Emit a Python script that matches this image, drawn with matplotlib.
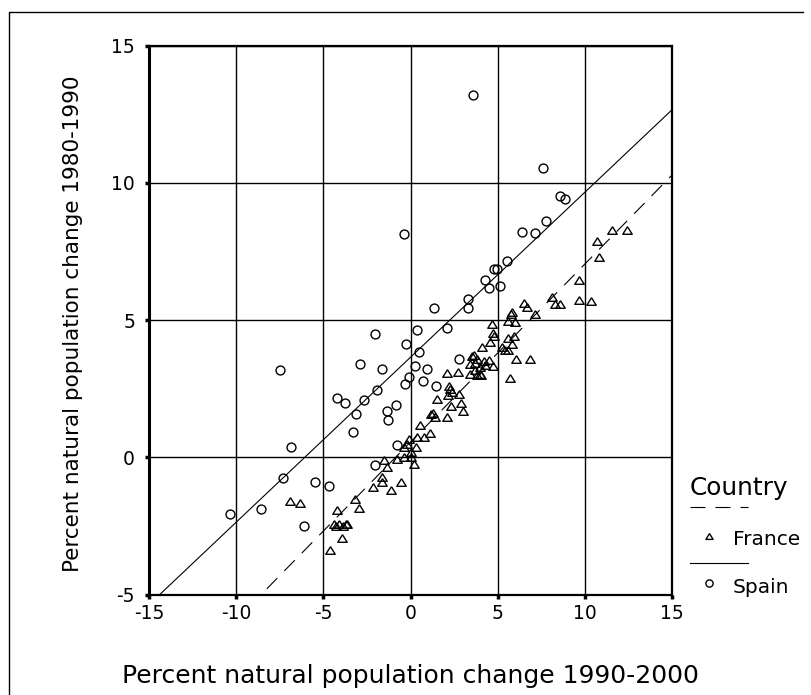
import numpy as np
import matplotlib
matplotlib.use("Agg")
import matplotlib.pyplot as plt
from matplotlib.lines import Line2D

plt.rcParams['font.family'] = ['DejaVu Sans']
plt.rcParams['axes.unicode_minus'] = False

# values
spain_x = [3.59, 7.6, 8.59, 8.89, 7.78, 6.41, 7.12, -0.38, 5.55, 4.77, 4.94, 4.29, 4.5,
           5.11, 3.28, 3.32, 1.37, 0.38, 2.1, -2.02, -7.48, -2.92, -1.66, -1.95, -4.2,
           -3.76, -2.67, -3.11, -1.37, -1.3, -0.84, -3.3, -6.87, -0.76, -7.33, -5.48,
           -4.68, -2.06, -8.6, -10.34, -6.12, -0.27, 0.46, 2.79, 0.27, 0.97, -0.08, 0.74,
           -0.29, 1.47]
spain_y = [13.2, 10.54, 9.51, 9.4, 8.61, 8.22, 8.19, 8.13, 7.15, 6.85, 6.85, 6.45, 6.19,
           6.25, 5.77, 5.46, 5.43, 4.66, 4.71, 4.48, 3.19, 3.4, 3.24, 2.47, 2.16,
           1.97, 2.1, 1.57, 1.68, 1.38, 1.92, 0.94, 0.39, 0.45, -0.75, -0.9,
           -1.03, -0.29, -1.88, -2.07, -2.51, 4.14, 3.84, 3.58, 3.33, 3.23, 2.93, 2.8,
           2.68, 2.61]

france_x = [11.55, 12.4, 10.7, 10.8, 9.69, 8.09, 8.28, 8.6, 9.69, 10.38, 6.49, 6.68, 7.14,
            5.82, 5.76, 5.59, 6.01, 4.66, 4.71, 4.77, 5.6, 5.95, 4.1, 4.54, 5.25, 5.44,
            5.57, 5.82, 6.07, 6.87, 5.72, 3.62, 3.82, 4.2, 4.48, 4.29, 4.73, 3.43, 3.72,
            4.0, 3.53, 3.72, 4.0, 3.4, 3.82, 4.05, 2.73, 2.1, 2.23, 2.29, 2.39, 2.16, 2.77,
            1.53, 2.92, 2.35, 3.01, 1.3, 1.18, 1.43, 2.1, 0.53, 1.14, 0.76, 0.38, -0.1,
            -0.19, -0.38, 0.29, 0.05, -0.76, -0.38, 0.0, 0.19, -1.53, -1.33, -1.62, -1.62,
            -1.14, -0.53, -2.14, -6.89, -6.34, -4.22, -3.21, -2.94, -4.39, -4.1, -3.72,
            -3.62, -4.25, -3.85, -3.93, -4.6]
france_y = [8.29, 8.29, 7.9, 7.32, 6.48, 5.84, 5.6, 5.6, 5.74, 5.7, 5.62, 5.48, 5.21,
            5.29, 5.21, 4.97, 4.93, 4.85, 4.53, 4.44, 4.35, 4.42, 4.02, 4.2, 4.04, 3.92,
            3.9, 4.12, 3.57, 3.57, 2.89, 3.75, 3.6, 3.53, 3.56, 3.35, 3.32, 3.41, 3.17,
            3.05, 3.68, 3.45, 3.29, 3.05, 3.02, 3.02, 3.11, 3.07, 2.62, 2.5, 2.38, 2.28, 2.32,
            2.12, 1.98, 1.87, 1.69, 1.61, 1.57, 1.49, 1.49, 1.17, 0.89, 0.74, 0.74, 0.68,
            0.5, 0.38, 0.38, 0.2, -0.05, 0.01, 0.01, -0.23, -0.11, -0.35, -0.72, -0.9,
            -1.18, -0.91, -1.08, -1.57, -1.66, -1.91, -1.5, -1.85, -2.42, -2.44, -2.42,
            -2.44, -2.5, -2.5, -2.93, -3.36]

# fit lines as drawn in the picture: (slope, intercept)
france_fit = (0.6485, 0.56)
spain_fit = (0.601, 3.65)

x_ticks = [-15, -10, -5, 0, 5, 10, 15]
y_ticks = [-5, 0, 5, 10, 15]
countries = ['France', 'Spain']
x_title = 'Percent natural population change 1990-2000'
y_title = 'Percent natural population change 1980-1990'

W, H = 811, 695


def fx(px):
    return px / W


def fy(py):
    return 1 - py / H


# wide, flat triangle like the SPSS marker
tri = [(0, 0.8), (-1, -0.8), (1, -0.8), (0, 0.8)]

fig = plt.figure(figsize=(W / 100, H / 100), dpi=100)
ax = fig.add_axes([fx(149), fy(594.7), (672 - 149) / W, (594.7 - 45.7) / H])

ax.set_xlim(-15, 15)
ax.set_ylim(-5, 15)
ax.set_xticks(x_ticks)
ax.set_yticks(y_ticks)
ax.set_xticklabels([str(t) for t in x_ticks])
ax.set_yticklabels([str(t) for t in y_ticks])
ax.tick_params(axis='both', direction='out', length=3, width=2.5, labelsize=13.5)
ax.tick_params(axis='x', pad=4)
ax.tick_params(axis='y', pad=7)
ax.grid(True, color='black', linewidth=1.0)
ax.set_axisbelow(True)
for s in ax.spines.values():
    s.set_linewidth(1.6)
ax.spines['left'].set_linewidth(2.2)

ax.plot(france_x, france_y, linestyle='none', marker=tri, ms=6.8,
        mfc='none', mec='black', mew=1.0, zorder=3)
ax.plot(spain_x, spain_y, linestyle='none', marker='o', ms=6.4,
        mfc='none', mec='black', mew=1.0, zorder=3)

# fit lines across the whole x range, clipped by the axes
xx = np.array([-15.0, 15.0])
lw = 0.8
ax.plot(xx, france_fit[0] * xx + france_fit[1], color='black', lw=lw,
        linestyle=(0, (10.8 / lw, 7.2 / lw)), zorder=4)
ax.plot(xx, spain_fit[0] * xx + spain_fit[1], color='black', lw=lw, zorder=4)

fig.text(fx(410), fy(682.7), x_title, fontsize=18, ha='center', va='baseline')
fig.text(fx(73.5), fy(324), y_title, fontsize=15.5, rotation=90,
         ha='center', va='center')

# legend, drawn by hand like the original
fig.text(fx(690), fy(495), 'Country', fontsize=17.8, va='baseline')
fig.add_artist(Line2D([fx(690), fx(748)], [fy(506.7), fy(506.7)], color='black',
                      lw=lw, linestyle=(0, (10.8 / lw, 7.2 / lw)),
                      transform=fig.transFigure))
fig.add_artist(Line2D([fx(709)], [fy(536)], marker=tri, ms=5.2, mfc='none',
                      mec='black', mew=1.0, transform=fig.transFigure))
fig.text(fx(733), fy(545), countries[0], fontsize=14.5, va='baseline')
fig.add_artist(Line2D([fx(690), fx(748)], [fy(562.7), fy(562.7)], color='black',
                      lw=lw, transform=fig.transFigure))
fig.add_artist(Line2D([fx(709)], [fy(583.3)], marker='o', ms=5.2, mfc='none',
                      mec='black', mew=1.0, transform=fig.transFigure))
fig.text(fx(733), fy(592.7), countries[1], fontsize=14.5, va='baseline')

# outer frame (left and top edges visible)
fig.add_artist(Line2D([fx(8.7), fx(8.7), fx(803)], [fy(H + 2), fy(12), fy(12)],
                      color='black', lw=1.0, transform=fig.transFigure))

fig.savefig('out.png', dpi=100)
